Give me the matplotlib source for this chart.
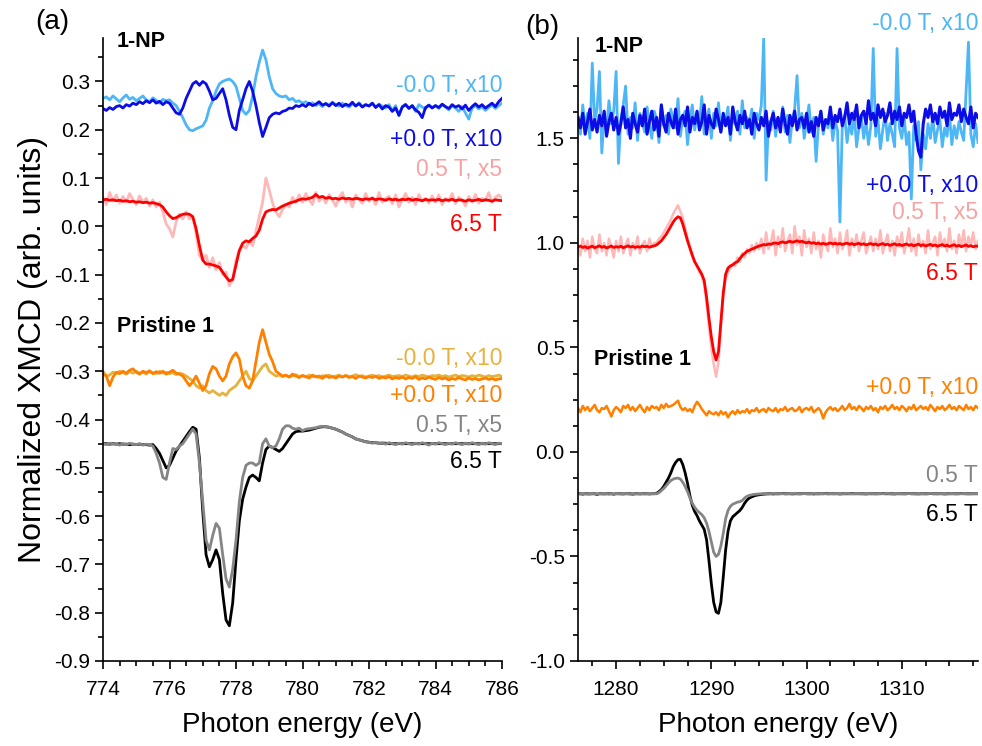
import numpy as np
import matplotlib
matplotlib.use("Agg")
import matplotlib.pyplot as plt
from matplotlib.ticker import MultipleLocator

plt.rcParams['font.family'] = ['Liberation Sans', 'DejaVu Sans']

# ---------------- panel (a): Co L-edge, 0.1 eV steps ----------------
e_a = np.linspace(774, 786, 121)

np_m0 = [0.265, 0.268, 0.262, 0.27, 0.264, 0.258, 0.266, 0.272, 0.263, 0.267,
         0.26, 0.265, 0.27, 0.262, 0.258, 0.266, 0.261, 0.255, 0.263, 0.26,
         0.262, 0.255, 0.25, 0.238, 0.225, 0.21, 0.2, 0.198, 0.202, 0.205,
         0.208, 0.22, 0.245, 0.26, 0.28, 0.295, 0.30, 0.303, 0.305, 0.30,
         0.29, 0.265, 0.24, 0.232, 0.24, 0.27, 0.31, 0.34, 0.365, 0.345,
         0.31, 0.285, 0.275, 0.27, 0.268, 0.27, 0.262, 0.265, 0.258, 0.26,
         0.255, 0.258, 0.252, 0.256, 0.25, 0.254, 0.248, 0.255, 0.251, 0.257,
         0.252, 0.249, 0.255, 0.25, 0.247, 0.253, 0.25, 0.256, 0.248, 0.252,
         0.25, 0.255, 0.247, 0.253, 0.249, 0.245, 0.252, 0.24, 0.25, 0.229,
         0.248, 0.253, 0.245, 0.25, 0.238, 0.252, 0.247, 0.243, 0.251, 0.246,
         0.25, 0.244, 0.252, 0.247, 0.241, 0.25, 0.245, 0.238, 0.248, 0.235,
         0.222, 0.245, 0.25, 0.243, 0.248, 0.24, 0.246, 0.251, 0.244, 0.25, 0.255]

np_p0 = [0.244, 0.24, 0.246, 0.242, 0.248, 0.25, 0.245, 0.252, 0.249, 0.255,
         0.252, 0.258, 0.254, 0.26, 0.256, 0.262, 0.255, 0.259, 0.252, 0.258,
         0.255, 0.245, 0.235, 0.232, 0.245, 0.265, 0.28, 0.295, 0.30, 0.292,
         0.30, 0.295, 0.28, 0.262, 0.265, 0.275, 0.285, 0.262, 0.23, 0.205,
         0.20, 0.24, 0.262, 0.285, 0.30, 0.28, 0.25, 0.215, 0.186, 0.205,
         0.225, 0.232, 0.235, 0.233, 0.238, 0.24, 0.245, 0.244, 0.25, 0.248,
         0.252, 0.248, 0.255, 0.25, 0.253, 0.258, 0.251, 0.254, 0.249, 0.256,
         0.25, 0.255, 0.248, 0.253, 0.25, 0.257, 0.249, 0.254, 0.247, 0.252,
         0.249, 0.255, 0.246, 0.252, 0.243, 0.25, 0.247, 0.238, 0.245, 0.23,
         0.247, 0.252, 0.244, 0.25, 0.241, 0.236, 0.225, 0.246, 0.251, 0.245,
         0.25, 0.246, 0.253, 0.248, 0.244, 0.252, 0.247, 0.25, 0.243, 0.251,
         0.24, 0.248, 0.254, 0.247, 0.252, 0.245, 0.25, 0.255, 0.248, 0.258, 0.265]

np_05 = [0.06, 0.045, 0.07, 0.052, 0.065, 0.048, 0.062, 0.05, 0.068, 0.055,
         0.045, 0.063, 0.05, 0.058, 0.042, 0.055, 0.04, 0.05, 0.03, 0.005,
         -0.005, -0.022, 0.01, 0.025, 0.015, 0.03, 0.015, 0.02, -0.015, -0.06,
         -0.07, -0.06, -0.085, -0.065, -0.09, -0.075, -0.1, -0.095, -0.123, -0.11,
         -0.07, -0.05, -0.04, -0.045, -0.03, -0.04, -0.01, 0.02, 0.05, 0.1,
         0.075, 0.048, 0.03, 0.02, 0.035, 0.045, 0.04, 0.06, 0.05, 0.065,
         0.05, 0.068, 0.055, 0.045, 0.07, 0.052, 0.062, 0.048, 0.066, 0.055,
         0.042, 0.06, 0.07, 0.05, 0.058, 0.04, 0.065, 0.055, 0.048, 0.068,
         0.052, 0.06, 0.045, 0.07, 0.05, 0.058, 0.062, 0.047, 0.065, 0.04,
         0.055, 0.068, 0.05, 0.06, 0.045, 0.066, 0.052, 0.058, 0.048, 0.063,
         0.05, 0.065, 0.045, 0.058, 0.052, 0.068, 0.047, 0.06, 0.055, 0.042,
         0.062, 0.05, 0.066, 0.048, 0.058, 0.053, 0.07, 0.05, 0.06, 0.065, 0.058]

np_65 = [0.055, 0.056, 0.054, 0.055, 0.053, 0.054, 0.052, 0.053, 0.051, 0.052,
         0.05, 0.051, 0.049, 0.05, 0.048, 0.049, 0.047, 0.045, 0.04, 0.03,
         0.022, 0.016, 0.018, 0.022, 0.025, 0.026, 0.025, 0.02, -0.005, -0.04,
         -0.07, -0.078, -0.078, -0.08, -0.082, -0.085, -0.095, -0.105, -0.113, -0.11,
         -0.08, -0.05, -0.035, -0.03, -0.032, -0.025, -0.02, -0.008, 0.015, 0.03,
         0.033, 0.035, 0.034, 0.038, 0.042, 0.045, 0.048, 0.05, 0.052, 0.055,
         0.057, 0.056, 0.058, 0.06, 0.066, 0.06, 0.062, 0.058, 0.06, 0.057,
         0.058, 0.056, 0.059, 0.057, 0.058, 0.056, 0.058, 0.057, 0.055, 0.057,
         0.056, 0.058, 0.055, 0.057, 0.056, 0.054, 0.057, 0.055, 0.056, 0.054,
         0.056, 0.055, 0.057, 0.054, 0.056, 0.055, 0.053, 0.056, 0.054, 0.055,
         0.054, 0.056, 0.053, 0.055, 0.054, 0.056, 0.053, 0.055, 0.054, 0.052,
         0.055, 0.053, 0.054, 0.056, 0.053, 0.055, 0.054, 0.052, 0.055, 0.054, 0.053]

pr_m0 = [-0.30, -0.31, -0.308, -0.302, -0.305, -0.3, -0.303, -0.306, -0.301, -0.304,
         -0.3, -0.304, -0.302, -0.306, -0.301, -0.303, -0.305, -0.3, -0.304, -0.302,
         -0.305, -0.303, -0.307, -0.304, -0.306, -0.31, -0.315, -0.32, -0.33, -0.335,
         -0.33, -0.34, -0.345, -0.34, -0.345, -0.35, -0.345, -0.35, -0.34, -0.335,
         -0.33, -0.32, -0.31, -0.30, -0.315, -0.32, -0.31, -0.30, -0.29, -0.285,
         -0.30, -0.305, -0.31, -0.308, -0.311, -0.309, -0.312, -0.31, -0.307, -0.311,
         -0.309, -0.312, -0.308, -0.311, -0.31, -0.313, -0.309, -0.311, -0.308, -0.312,
         -0.31, -0.308, -0.312, -0.309, -0.311, -0.31, -0.307, -0.311, -0.309, -0.312,
         -0.31, -0.308, -0.311, -0.309, -0.312, -0.31, -0.308, -0.311, -0.31, -0.309,
         -0.311, -0.308, -0.31, -0.312, -0.309, -0.311, -0.308, -0.31, -0.312, -0.309,
         -0.31, -0.308, -0.311, -0.309, -0.312, -0.31, -0.308, -0.311, -0.309, -0.31,
         -0.312, -0.309, -0.311, -0.308, -0.31, -0.312, -0.309, -0.311, -0.31, -0.308, -0.311]

pr_p0 = [-0.305, -0.31, -0.33, -0.312, -0.302, -0.305, -0.3, -0.304, -0.298, -0.295,
         -0.302, -0.306, -0.3, -0.303, -0.299, -0.305, -0.301, -0.304, -0.3, -0.306,
         -0.302, -0.298, -0.304, -0.306, -0.31, -0.32, -0.33, -0.322, -0.31, -0.325,
         -0.34, -0.33, -0.305, -0.29, -0.295, -0.31, -0.32, -0.31, -0.285, -0.27,
         -0.262, -0.275, -0.31, -0.33, -0.335, -0.32, -0.28, -0.24, -0.214, -0.24,
         -0.265, -0.28, -0.3, -0.305, -0.31, -0.308, -0.312, -0.306, -0.31, -0.313,
         -0.309, -0.311, -0.314, -0.308, -0.312, -0.31, -0.315, -0.309, -0.313, -0.311,
         -0.314, -0.31, -0.312, -0.309, -0.313, -0.311, -0.315, -0.31, -0.312, -0.314,
         -0.311, -0.313, -0.31, -0.315, -0.312, -0.314, -0.311, -0.316, -0.313, -0.315,
         -0.312, -0.316, -0.313, -0.315, -0.311, -0.317, -0.314, -0.316, -0.312, -0.315,
         -0.317, -0.313, -0.316, -0.314, -0.318, -0.315, -0.317, -0.313, -0.316, -0.318,
         -0.314, -0.317, -0.315, -0.318, -0.316, -0.314, -0.317, -0.315, -0.318, -0.316, -0.315]

pr_05 = [-0.45, -0.452, -0.449, -0.451, -0.45, -0.453, -0.45, -0.452, -0.449, -0.451,
         -0.452, -0.45, -0.453, -0.451, -0.452, -0.455, -0.47, -0.49, -0.52, -0.524,
         -0.49, -0.46, -0.462, -0.455, -0.45, -0.44, -0.43, -0.42, -0.43, -0.49,
         -0.57, -0.65, -0.67, -0.64, -0.615, -0.625, -0.68, -0.73, -0.747, -0.71,
         -0.65, -0.57, -0.52, -0.495, -0.49, -0.49, -0.495, -0.49, -0.45, -0.44,
         -0.455, -0.458, -0.455, -0.44, -0.42, -0.413, -0.413, -0.418, -0.42, -0.418,
         -0.423, -0.42, -0.419, -0.418, -0.417, -0.415, -0.414, -0.415, -0.416, -0.418,
         -0.42, -0.423, -0.426, -0.43, -0.433, -0.436, -0.44, -0.442, -0.444, -0.446,
         -0.447, -0.449, -0.447, -0.45, -0.448, -0.451, -0.448, -0.45, -0.452, -0.449,
         -0.451, -0.448, -0.45, -0.452, -0.449, -0.451, -0.448, -0.45, -0.453, -0.449,
         -0.451, -0.448, -0.45, -0.452, -0.449, -0.451, -0.448, -0.45, -0.452, -0.449,
         -0.451, -0.448, -0.45, -0.452, -0.449, -0.451, -0.448, -0.45, -0.452, -0.449, -0.45]

pr_65 = [-0.45, -0.45, -0.451, -0.45, -0.451, -0.45, -0.451, -0.451, -0.452, -0.451,
         -0.452, -0.451, -0.452, -0.452, -0.453, -0.452, -0.46, -0.47, -0.485, -0.50,
         -0.495, -0.48, -0.465, -0.455, -0.445, -0.435, -0.425, -0.416, -0.42, -0.48,
         -0.59, -0.68, -0.705, -0.69, -0.67, -0.69, -0.76, -0.815, -0.827, -0.78,
         -0.69, -0.61, -0.565, -0.54, -0.52, -0.515, -0.52, -0.527, -0.49, -0.462,
         -0.455, -0.458, -0.462, -0.466, -0.46, -0.45, -0.44, -0.43, -0.425, -0.424,
         -0.424, -0.423, -0.422, -0.42, -0.418, -0.416, -0.415, -0.415, -0.416, -0.418,
         -0.42, -0.423, -0.426, -0.43, -0.433, -0.436, -0.44, -0.442, -0.444, -0.446,
         -0.447, -0.448, -0.448, -0.449, -0.449, -0.449, -0.45, -0.45, -0.45, -0.45,
         -0.45, -0.45, -0.45, -0.45, -0.45, -0.45, -0.45, -0.45, -0.45, -0.45,
         -0.45, -0.45, -0.45, -0.45, -0.45, -0.45, -0.45, -0.45, -0.45, -0.45,
         -0.45, -0.45, -0.45, -0.45, -0.45, -0.45, -0.45, -0.45, -0.45, -0.45, -0.45]

# ---------------- panel (b): second edge, 0.25 eV steps ----------------
e_b = np.linspace(1276, 1318, 169)

npb_m0 = [1.60, 1.52, 1.66, 1.55, 1.62, 1.50, 1.86, 1.58, 1.64, 1.82,
          1.43, 1.61, 1.54, 1.68, 1.57, 1.63, 1.82, 1.38, 1.59, 1.66,
          1.75, 1.52, 1.60, 1.55, 1.67, 1.49, 1.62, 1.58, 1.53, 1.65,
          1.57, 1.50, 1.63, 1.59, 1.48, 1.66, 1.56, 1.61, 1.52, 1.64,
          1.58, 1.55, 1.69, 1.51, 1.60, 1.63, 1.47, 1.59, 1.66, 1.54,
          1.61, 1.57, 1.70, 1.52, 1.58, 1.64, 1.50, 1.62, 1.56, 1.67,
          1.53, 1.60, 1.58, 1.65, 1.49, 1.61, 1.57, 1.63, 1.52, 1.68,
          1.55, 1.60, 1.57, 1.64, 1.50, 1.62, 1.59, 1.66, 1.98, 1.30,
          1.58, 1.54, 1.63, 1.51, 1.60, 1.57, 1.65, 1.53, 1.61, 1.48,
          1.59, 1.64, 1.80, 1.55, 1.62, 1.50, 1.58, 1.66, 1.53, 1.60,
          1.39, 1.57, 1.63, 1.52, 1.59, 1.55, 1.62, 1.49, 1.58, 1.54,
          1.10, 1.56, 1.61, 1.48, 1.57, 1.52, 1.63, 1.46, 1.55, 1.60,
          1.50, 1.58, 1.47, 1.56, 1.93, 1.51, 1.59, 1.45, 1.54, 1.62,
          1.49, 1.57, 1.52, 1.46, 1.93, 1.55, 1.50, 1.60, 1.47, 1.53,
          1.21, 1.56, 1.49, 1.58, 1.35, 1.52, 1.45, 1.57, 1.50, 1.61,
          1.48, 1.54, 1.59, 1.46, 1.55, 1.51, 1.62, 1.47, 1.56, 1.50,
          1.58, 1.53, 1.49, 1.72, 1.96, 1.52, 1.46, 1.57, 1.48]

npb_p0 = [1.60, 1.55, 1.62, 1.52, 1.58, 1.64, 1.54, 1.59, 1.53, 1.61,
          1.56, 1.63, 1.51, 1.58, 1.62, 1.54, 1.60, 1.52, 1.57, 1.65,
          1.55, 1.59, 1.50, 1.62, 1.57, 1.53, 1.61, 1.56, 1.64, 1.52,
          1.58, 1.63, 1.54, 1.60, 1.51, 1.66, 1.57, 1.53, 1.62, 1.58,
          1.55, 1.64, 1.52, 1.59, 1.61, 1.56, 1.65, 1.53, 1.60, 1.57,
          1.63, 1.54, 1.58, 1.66, 1.52, 1.61, 1.57, 1.55, 1.64, 1.59,
          1.53, 1.62, 1.56, 1.60, 1.52, 1.65, 1.58, 1.54, 1.61, 1.57,
          1.63, 1.55, 1.59, 1.52, 1.62, 1.57, 1.54, 1.60, 1.56, 1.63,
          1.51, 1.58, 1.62, 1.55, 1.60, 1.53, 1.64, 1.57, 1.52, 1.61,
          1.56, 1.63, 1.54, 1.59, 1.60, 1.55, 1.62, 1.53, 1.58, 1.51,
          1.60, 1.56, 1.63, 1.54, 1.59, 1.57, 1.65, 1.55, 1.61, 1.58,
          1.64, 1.56, 1.60, 1.67, 1.57, 1.62, 1.59, 1.66, 1.55, 1.61,
          1.63, 1.57, 1.68, 1.59, 1.62, 1.56, 1.66, 1.60, 1.64, 1.58,
          1.61, 1.67, 1.57, 1.63, 1.59, 1.65, 1.56, 1.62, 1.60, 1.66,
          1.58, 1.63, 1.52, 1.44, 1.41, 1.57, 1.64, 1.60, 1.66, 1.58,
          1.62, 1.57, 1.65, 1.60, 1.63, 1.56, 1.67, 1.59, 1.62, 1.61,
          1.66, 1.58, 1.64, 1.60, 1.57, 1.65, 1.55, 1.62, 1.60]

npb_05 = [0.99, 0.94, 1.02, 0.96, 1.01, 0.93, 1.03, 0.97, 0.95, 1.04,
          0.96, 1.0, 0.94, 1.02, 0.98, 0.93, 1.01,
          0.96, 1.03, 0.95, 0.99, 1.02, 0.94, 1.0, 0.97, 1.03, 0.95,
          0.99, 1.01, 0.96, 1.02, 0.98, 1.0,
          1.0, 1.02, 1.03, 1.05, 1.07, 1.09, 1.11, 1.14, 1.16, 1.18,
          1.15, 1.12, 1.07, 1.02, 0.98, 0.95, 0.91, 0.89, 0.86, 0.84,
          0.80, 0.71, 0.60, 0.50, 0.42, 0.36, 0.43, 0.60, 0.74, 0.83,
          0.86, 0.88, 0.90, 0.89, 0.93, 0.91, 0.95, 0.93, 0.97, 0.95,
          0.99, 0.96, 1.0, 0.97,
          1.02, 0.95, 1.05, 0.97, 1.0, 1.06, 0.94, 1.03, 0.98, 1.07,
          0.96, 1.01, 1.04, 0.95, 1.08, 0.99,
          1.03, 0.94, 1.06, 0.98, 1.02, 0.95, 1.05, 0.97, 1.01, 0.93,
          1.04, 0.99, 0.96, 1.07, 0.98, 1.02,
          0.95, 1.05, 0.97, 1.0, 1.06, 0.94, 1.02, 0.98, 1.04, 0.96,
          1.01, 1.05, 0.95, 0.99, 1.03, 0.96,
          1.02, 0.97, 1.06, 0.95, 1.0, 1.04, 0.96, 1.01, 0.94, 1.03,
          0.98, 1.05, 0.95, 1.0, 1.07, 0.96,
          1.02, 0.94, 1.04, 0.98, 1.01, 0.95, 1.06, 0.97, 1.0, 1.03,
          0.94, 1.05, 0.98, 1.02, 0.96, 1.07,
          0.97, 1.01, 0.95, 1.04, 0.98, 1.06, 0.96, 1.03, 0.99, 1.05,
          0.97, 1.01]

npb_65 = [0.98, 0.985, 0.978, 0.982, 0.975, 0.98, 0.984, 0.977, 0.981, 0.986,
          0.979, 0.983, 0.976, 0.98, 0.985, 0.978, 0.982,
          0.979, 0.984, 0.977, 0.981, 0.986, 0.98, 0.983, 0.978, 0.982, 0.979,
          0.985, 0.981, 0.984, 0.979, 0.983, 0.986,
          0.99, 1.0, 1.01, 1.025, 1.04, 1.06, 1.08, 1.10, 1.115, 1.125,
          1.12, 1.09, 1.05, 1.01, 0.975, 0.94, 0.91, 0.89, 0.87, 0.85,
          0.82, 0.74, 0.64, 0.55, 0.48, 0.44, 0.48, 0.62, 0.76, 0.85,
          0.88, 0.89, 0.895, 0.905, 0.91, 0.925, 0.94, 0.95, 0.96, 0.965,
          0.97, 0.975, 0.98, 0.985,
          0.988, 0.992, 0.99, 0.995, 0.993, 0.998, 1.0, 0.996, 1.002, 1.005,
          1.0, 1.004, 1.008, 1.003, 1.006, 1.01,
          1.005, 1.008, 1.003, 1.0, 1.004, 0.998, 1.001, 0.996, 0.999, 0.994,
          0.998, 0.993, 0.996, 1.0, 0.995, 0.998,
          0.994, 0.997, 0.992, 0.996, 0.999, 0.993, 0.997, 0.991, 0.995, 0.998,
          0.992, 0.996, 0.99, 0.994, 0.997, 0.991,
          0.995, 0.989, 0.993, 0.997, 0.99, 0.994, 0.988, 0.992, 0.996, 0.989,
          0.993, 0.987, 0.991, 0.995, 0.988, 0.992,
          0.986, 0.99, 0.994, 0.987, 0.991, 0.985, 0.989, 0.993, 0.986, 0.99,
          0.984, 0.988, 0.992, 0.985, 0.989, 0.983,
          0.987, 0.991, 0.984, 0.988, 0.982, 0.986, 0.99, 0.983, 0.987, 0.981,
          0.985, 0.984]

prb_p0 = [0.21, 0.19, 0.22, 0.20, 0.215, 0.195, 0.21, 0.225, 0.20, 0.19,
          0.21, 0.205, 0.22, 0.195, 0.17, 0.20, 0.215,
          0.205, 0.19, 0.22, 0.21, 0.225, 0.20, 0.215, 0.195, 0.21, 0.225,
          0.205, 0.19, 0.215, 0.20, 0.22, 0.21,
          0.215, 0.20, 0.225, 0.21, 0.23, 0.215, 0.22, 0.225, 0.235, 0.245,
          0.215, 0.20, 0.21, 0.195, 0.205, 0.19,
          0.22, 0.24, 0.225, 0.205, 0.19, 0.175, 0.195, 0.185, 0.18, 0.19,
          0.175, 0.195, 0.18, 0.19, 0.165, 0.185,
          0.195, 0.18, 0.2, 0.185, 0.195, 0.19, 0.205, 0.185, 0.2, 0.195,
          0.21, 0.19, 0.2, 0.205, 0.19, 0.21,
          0.2, 0.195, 0.21, 0.19, 0.205, 0.2, 0.215, 0.195, 0.205, 0.21,
          0.195, 0.2, 0.215, 0.19, 0.205, 0.21,
          0.2, 0.215, 0.19, 0.2, 0.21, 0.195, 0.16, 0.19, 0.205, 0.215,
          0.2, 0.21, 0.195, 0.205, 0.22, 0.2,
          0.21, 0.23, 0.205, 0.215, 0.2, 0.22, 0.21, 0.195, 0.215, 0.205,
          0.22, 0.2, 0.21, 0.19, 0.215, 0.205,
          0.22, 0.2, 0.21, 0.225, 0.205, 0.215, 0.2, 0.22, 0.21, 0.195,
          0.215, 0.205, 0.225, 0.2, 0.21, 0.22,
          0.205, 0.215, 0.2, 0.225, 0.21, 0.195, 0.215, 0.205, 0.22, 0.2,
          0.21, 0.225, 0.205, 0.215, 0.2, 0.22,
          0.21, 0.2, 0.225, 0.205, 0.215, 0.2, 0.22, 0.21]

prb_05 = [-0.2, -0.201, -0.199, -0.2, -0.202, -0.2, -0.199, -0.201, -0.2, -0.2,
          -0.201, -0.199, -0.2, -0.202, -0.2, -0.201, -0.199,
          -0.2, -0.201, -0.2, -0.199, -0.2, -0.202, -0.2, -0.201, -0.2, -0.199,
          -0.2, -0.201, -0.2, -0.2, -0.199, -0.2,
          -0.2, -0.195, -0.185, -0.175, -0.162, -0.148, -0.137, -0.13, -0.126, -0.125,
          -0.13, -0.145, -0.165, -0.19, -0.22, -0.245, -0.265, -0.28, -0.29, -0.30,
          -0.315, -0.34, -0.38, -0.43, -0.48, -0.50, -0.49, -0.45, -0.39, -0.32,
          -0.28, -0.26, -0.25, -0.245, -0.24, -0.238, -0.232, -0.22, -0.212, -0.208,
          -0.205, -0.203, -0.202, -0.201,
          -0.2, -0.199, -0.2, -0.201, -0.2, -0.198, -0.2, -0.201, -0.199, -0.2,
          -0.201, -0.2, -0.199, -0.2, -0.198, -0.2,
          -0.201, -0.2, -0.199, -0.2, -0.201, -0.2, -0.198, -0.2, -0.201, -0.199,
          -0.2, -0.2, -0.201, -0.199, -0.2, -0.2,
          -0.199, -0.201, -0.2, -0.2, -0.198, -0.2, -0.201, -0.2, -0.199, -0.2,
          -0.2, -0.201, -0.2, -0.199, -0.2, -0.2,
          -0.201, -0.2, -0.199, -0.2, -0.2, -0.198, -0.2, -0.201, -0.2, -0.199,
          -0.2, -0.2, -0.201, -0.2, -0.199, -0.2,
          -0.2, -0.201, -0.199, -0.2, -0.2, -0.201, -0.2, -0.198, -0.2, -0.2,
          -0.201, -0.199, -0.2, -0.2, -0.201, -0.2,
          -0.199, -0.2, -0.201, -0.2, -0.2, -0.199, -0.2, -0.201, -0.2, -0.2,
          -0.199, -0.2]

prb_65 = [-0.2, -0.2, -0.202, -0.2, -0.2, -0.201, -0.2, -0.2, -0.203, -0.2,
          -0.2, -0.201, -0.2, -0.2, -0.2, -0.202, -0.2,
          -0.2, -0.2, -0.201, -0.2, -0.2, -0.2, -0.202, -0.2, -0.2, -0.201,
          -0.2, -0.2, -0.2, -0.201, -0.2, -0.2,
          -0.198, -0.19, -0.18, -0.165, -0.145, -0.125, -0.10, -0.07, -0.05, -0.037,
          -0.035, -0.06, -0.10, -0.15, -0.21, -0.255, -0.285, -0.305, -0.33, -0.35,
          -0.37, -0.42, -0.52, -0.63, -0.72, -0.765, -0.772, -0.72, -0.60, -0.47,
          -0.38, -0.33, -0.31, -0.30, -0.29, -0.28, -0.265, -0.245, -0.23, -0.22,
          -0.215, -0.21, -0.207, -0.205,
          -0.203, -0.202, -0.201, -0.2, -0.2, -0.201, -0.2, -0.2, -0.2, -0.199,
          -0.2, -0.2, -0.2, -0.201, -0.2, -0.2,
          -0.2, -0.2, -0.199, -0.2, -0.2, -0.2, -0.201, -0.2, -0.2, -0.2,
          -0.2, -0.199, -0.2, -0.2, -0.2, -0.2,
          -0.2, -0.201, -0.2, -0.2, -0.2, -0.2, -0.199, -0.2, -0.2, -0.2,
          -0.2, -0.2, -0.201, -0.2, -0.2, -0.2,
          -0.2, -0.2, -0.2, -0.199, -0.2, -0.2, -0.2, -0.2, -0.201, -0.2,
          -0.2, -0.2, -0.2, -0.2, -0.199, -0.2,
          -0.2, -0.2, -0.201, -0.2, -0.2, -0.2, -0.2, -0.199, -0.2, -0.2,
          -0.2, -0.2, -0.2, -0.201, -0.2, -0.2,
          -0.2, -0.2, -0.2, -0.2, -0.199, -0.2, -0.2, -0.2, -0.2, -0.2,
          -0.2, -0.2]

c_lblue = '#4db6f7'
c_blue = '#0c0ce6'
c_pink = '#ffb8b8'
c_red = '#ff0000'
c_lorange = '#e6b23c'
c_orange = '#ff8000'
c_gray = '#858585'
c_black = '#000000'

fig = plt.figure(figsize=(9.82, 7.46), dpi=100)
W, H = 982, 746
ax1 = fig.add_axes([103 / W, (H - 661) / H, (502 - 103) / W, (661 - 38) / H])
ax2 = fig.add_axes([578 / W, (H - 661) / H, (978 - 578) / W, (661 - 38) / H])

lw = 2.0
# panel (a)
ax1.plot(e_a, np_m0, color=c_lblue, lw=lw)
ax1.plot(e_a, np_p0, color=c_blue, lw=lw)
ax1.plot(e_a, np_05, color=c_pink, lw=lw)
ax1.plot(e_a, np_65, color=c_red, lw=lw)
ax1.plot(e_a, pr_m0, color=c_lorange, lw=lw)
ax1.plot(e_a, pr_p0, color=c_orange, lw=lw)
ax1.plot(e_a, pr_65, color=c_black, lw=lw)
ax1.plot(e_a, pr_05, color=c_gray, lw=lw)

# panel (b)
ax2.plot(e_b, npb_m0, color=c_lblue, lw=2.0)
ax2.plot(e_b, npb_p0, color=c_blue, lw=2.2)
ax2.plot(e_b, npb_05, color=c_pink, lw=1.8)
ax2.plot(e_b, npb_65, color=c_red, lw=lw)
ax2.plot(e_b, prb_p0, color=c_orange, lw=1.8)
ax2.plot(e_b, prb_65, color=c_black, lw=lw)
ax2.plot(e_b, prb_05, color=c_gray, lw=lw)

ax1.set_xlim(774, 786)
ax1.set_ylim(-0.9, 0.39)
ax1.xaxis.set_major_locator(MultipleLocator(2))
ax1.xaxis.set_minor_locator(MultipleLocator(0.5))
ax1.yaxis.set_major_locator(MultipleLocator(0.1))
ax1.yaxis.set_minor_locator(MultipleLocator(0.05))
ax1.yaxis.set_major_formatter(plt.FuncFormatter(lambda v, p: f"{v:.1f}".replace("-0.0", "0.0")))

ax2.set_xlim(1276, 1318)
ax2.set_ylim(-1.0, 1.98)
ax2.xaxis.set_major_locator(MultipleLocator(10))
ax2.xaxis.set_minor_locator(MultipleLocator(2.5))
ax2.yaxis.set_major_locator(MultipleLocator(0.5))
ax2.yaxis.set_minor_locator(MultipleLocator(0.125))
ax2.yaxis.set_major_formatter(plt.FuncFormatter(lambda v, p: f"{v:.1f}".replace("-0.0", "0.0")))

for ax in (ax1, ax2):
    for s in ('top', 'right'):
        ax.spines[s].set_visible(False)
    for s in ('left', 'bottom'):
        ax.spines[s].set_linewidth(1.2)
    ax.tick_params(which='major', direction='out', length=6, width=1.2, labelsize=15)
    ax.tick_params(axis='x', which='major', pad=8)
    ax.tick_params(which='minor', direction='out', length=3.5, width=1.2)
    ax.set_xlabel('Photon energy (eV)', fontsize=20, labelpad=9)

ax1.set_ylabel('Normalized XMCD (arb. units)', fontsize=23, labelpad=4)

fs = 16.5
# labels panel (a)
ax1.text(786, 0.292, '-0.0 T, x10', color=c_lblue, fontsize=fs, ha='right', va='center')
ax1.text(786, 0.180, '+0.0 T, x10', color=c_blue, fontsize=fs, ha='right', va='center')
ax1.text(786, 0.118, '0.5 T, x5', color='#f5a3a3', fontsize=fs, ha='right', va='center')
ax1.text(786, 0.003, '6.5 T', color=c_red, fontsize=fs, ha='right', va='center')
ax1.text(786, -0.273, '-0.0 T, x10', color=c_lorange, fontsize=fs, ha='right', va='center')
ax1.text(786, -0.350, '+0.0 T, x10', color=c_orange, fontsize=fs, ha='right', va='center')
ax1.text(786, -0.412, '0.5 T, x5', color=c_gray, fontsize=fs, ha='right', va='center')
ax1.text(786, -0.486, '6.5 T', color=c_black, fontsize=fs, ha='right', va='center')
ax1.text(774.42, 0.382, '1-NP', fontsize=15.5, fontweight='bold', ha='left', va='center')
ax1.text(774.42, -0.208, 'Pristine 1', fontsize=15.5, fontweight='bold', ha='left', va='center')

# labels panel (b)
ax2.text(1318, 2.048, '-0.0 T, x10', color=c_lblue, fontsize=fs, ha='right', va='center', clip_on=False)
ax2.text(1318, 1.274, '+0.0 T, x10', color=c_blue, fontsize=fs, ha='right', va='center')
ax2.text(1318, 1.147, '0.5 T, x5', color='#f5a3a3', fontsize=fs, ha='right', va='center')
ax2.text(1318, 0.852, '6.5 T', color=c_red, fontsize=fs, ha='right', va='center')
ax2.text(1318, 0.310, '+0.0 T, x10', color=c_orange, fontsize=fs, ha='right', va='center')
ax2.text(1318, -0.115, '0.5 T', color=c_gray, fontsize=fs, ha='right', va='center')
ax2.text(1318, -0.297, '6.5 T', color=c_black, fontsize=fs, ha='right', va='center')
ax2.text(1277.7, 1.94, '1-NP', fontsize=15.5, fontweight='bold', ha='left', va='center')
ax2.text(1277.7, 0.44, 'Pristine 1', fontsize=15.5, fontweight='bold', ha='left', va='center')

fig.text(35 / W, 1 - 22 / H, '(a)', fontsize=20, ha='left', va='center')
fig.text(525 / W, 1 - 27 / H, '(b)', fontsize=20, ha='left', va='center')

fig.savefig('out.png', dpi=100)
